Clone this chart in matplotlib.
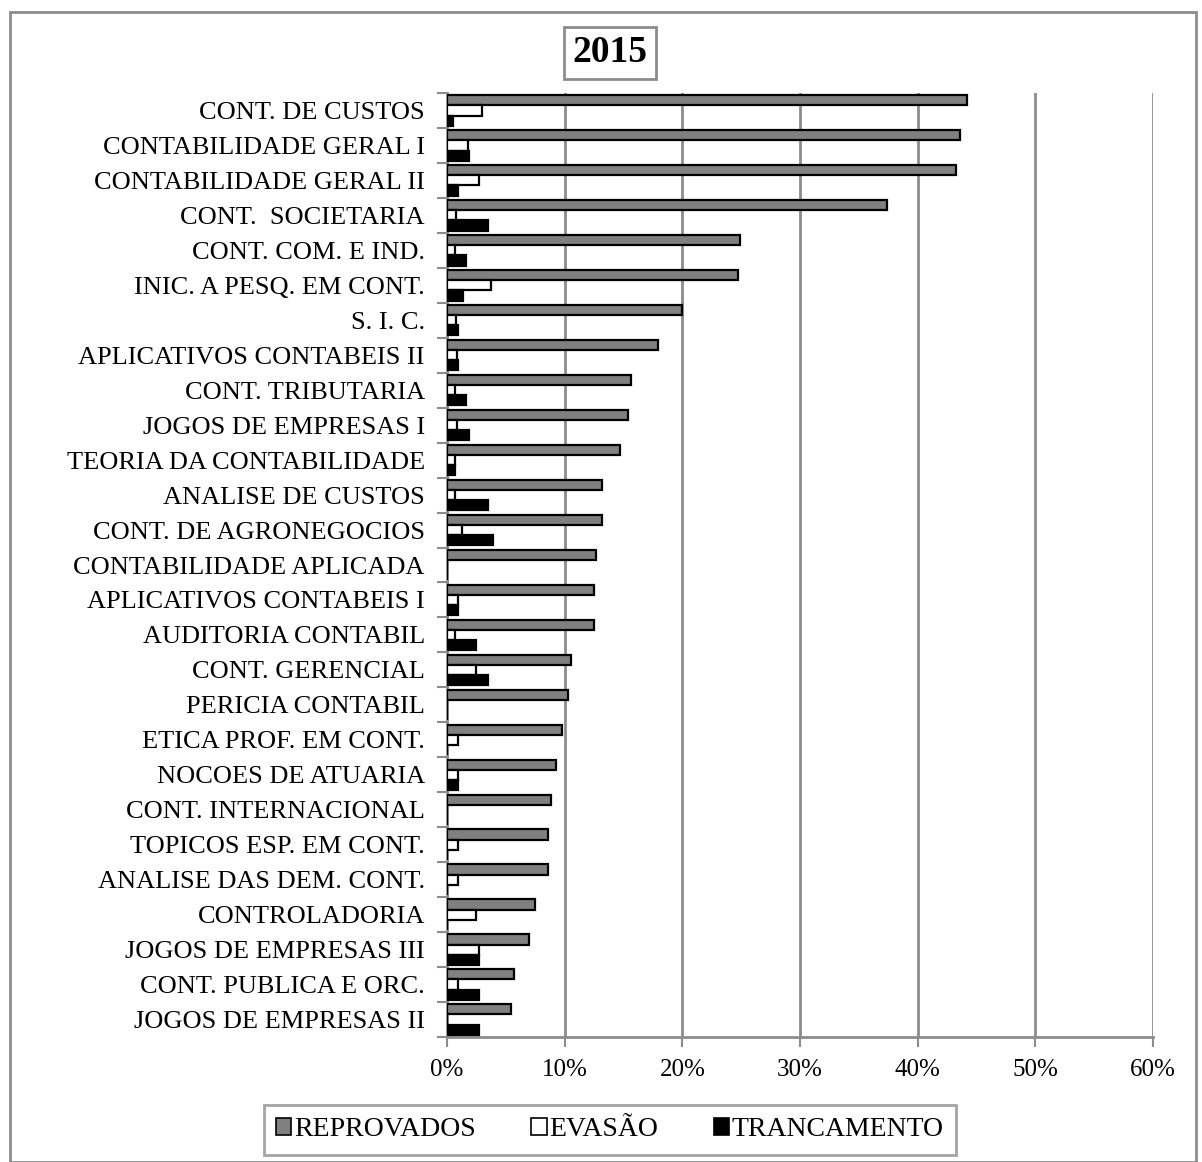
import numpy as np
import matplotlib.pyplot as plt
from matplotlib.patches import Rectangle, Patch
from matplotlib.ticker import MultipleLocator, FuncFormatter

plt.rcParams['font.family'] = ['Liberation Serif', 'DejaVu Serif']

disciplinas = [
    "CONT. DE CUSTOS", "CONTABILIDADE GERAL I", "CONTABILIDADE GERAL II",
    "CONT.  SOCIETARIA", "CONT. COM. E IND.", "INIC. A PESQ. EM CONT.",
    "S. I. C.", "APLICATIVOS CONTABEIS II", "CONT. TRIBUTARIA",
    "JOGOS DE EMPRESAS I", "TEORIA DA CONTABILIDADE", "ANALISE DE CUSTOS",
    "CONT. DE AGRONEGOCIOS", "CONTABILIDADE APLICADA", "APLICATIVOS CONTABEIS I",
    "AUDITORIA CONTABIL", "CONT. GERENCIAL", "PERICIA CONTABIL",
    "ETICA PROF. EM CONT.", "NOCOES DE ATUARIA", "CONT. INTERNACIONAL",
    "TOPICOS ESP. EM CONT.", "ANALISE DAS DEM. CONT.", "CONTROLADORIA",
    "JOGOS DE EMPRESAS III", "CONT. PUBLICA E ORC.", "JOGOS DE EMPRESAS II",
]
reprovados = [44.2, 43.6, 43.3, 37.4, 24.9, 24.7, 20.0, 17.9, 15.6, 15.4, 14.7,
              13.2, 13.2, 12.7, 12.5, 12.5, 10.5, 10.3, 9.8, 9.3, 8.8, 8.6, 8.6,
              7.5, 7.0, 5.7, 5.4]
evasao = [3.0, 1.8, 2.7, 0.8, 0.7, 3.7, 0.8, 0.85, 0.7, 0.85, 0.7, 0.7, 1.3,
          0.0, 0.9, 0.7, 2.5, 0.0, 0.9, 0.9, 0.0, 0.9, 0.9, 2.5, 2.7, 0.9, 0.0]
trancamento = [0.5, 1.9, 0.95, 3.5, 1.6, 1.4, 0.9, 0.95, 1.6, 1.9, 0.7, 3.5,
               3.9, 0.0, 0.9, 2.5, 3.5, 0.0, 0.0, 0.9, 0.0, 0.0, 0.0, 0.0, 2.7,
               2.7, 2.7]

series = [
    ("REPROVADOS", reprovados, "#808080"),
    ("EVASÃO", evasao, "white"),
    ("TRANCAMENTO", trancamento, "black"),
]

fig = plt.figure(figsize=(12.02, 11.62), dpi=100)
ax = fig.add_axes([447 / 1202, 1 - 1037 / 1162, 706 / 1202, 944 / 1162])

y = np.arange(len(disciplinas))
h = 0.29
for k, (nome, vals, cor) in enumerate(series):
    ax.barh(y + (k - 1) * h, vals, height=h, color=cor, edgecolor="black",
            linewidth=1.6, label=nome, zorder=3)

ax.set_xlim(0, 60)
ax.set_ylim(len(disciplinas) - 0.5, -0.5)
ax.xaxis.set_major_locator(MultipleLocator(10))
ax.xaxis.set_major_formatter(FuncFormatter(lambda v, p: f"{v:.0f}%"))
ax.grid(axis="x", color="#8c8c8c", linewidth=2, zorder=0)
ax.set_yticks(y)
ax.set_yticklabels(disciplinas)
ax.set_yticks(np.arange(len(disciplinas) + 1) - 0.5, minor=True)
ax.tick_params(axis="y", which="major", length=0, pad=16, labelsize=19)
ax.tick_params(axis="y", which="minor", length=7, width=1.5, color="#8c8c8c")
ax.tick_params(axis="x", length=7, width=1.5, color="#8c8c8c", labelsize=18, pad=9)
for s in ("top", "right"):
    ax.spines[s].set_visible(False)
for s in ("left", "bottom"):
    ax.spines[s].set_color("#8c8c8c")
    ax.spines[s].set_linewidth(2)

fig.text(610 / 1202, 1 - 53 / 1162, "2015", ha="center", va="center",
         fontsize=27, fontweight="bold",
         bbox=dict(boxstyle="square,pad=0.22", fc="white", ec="#8c8c8c", lw=2))

handles = [Patch(facecolor=c, edgecolor="black", linewidth=1.2, label=n)
           for n, _, c in series]
leg = fig.legend(handles=handles, loc="center", ncol=3,
                 bbox_to_anchor=(610 / 1202, 1 - 1130 / 1162), fontsize=20,
                 frameon=True, fancybox=False, edgecolor="#8c8c8c",
                 handlelength=0.55, handleheight=0.55, handletextpad=0.1,
                 columnspacing=2.0, borderpad=0.45, borderaxespad=0)
leg.get_frame().set_linewidth(2)

fig.patches.append(Rectangle((10 / 1202, 0), 1186 / 1202, 1 - 12 / 1162,
                             transform=fig.transFigure, fill=False,
                             edgecolor="#8c8c8c", linewidth=2))

fig.savefig("out.png", dpi=100)
